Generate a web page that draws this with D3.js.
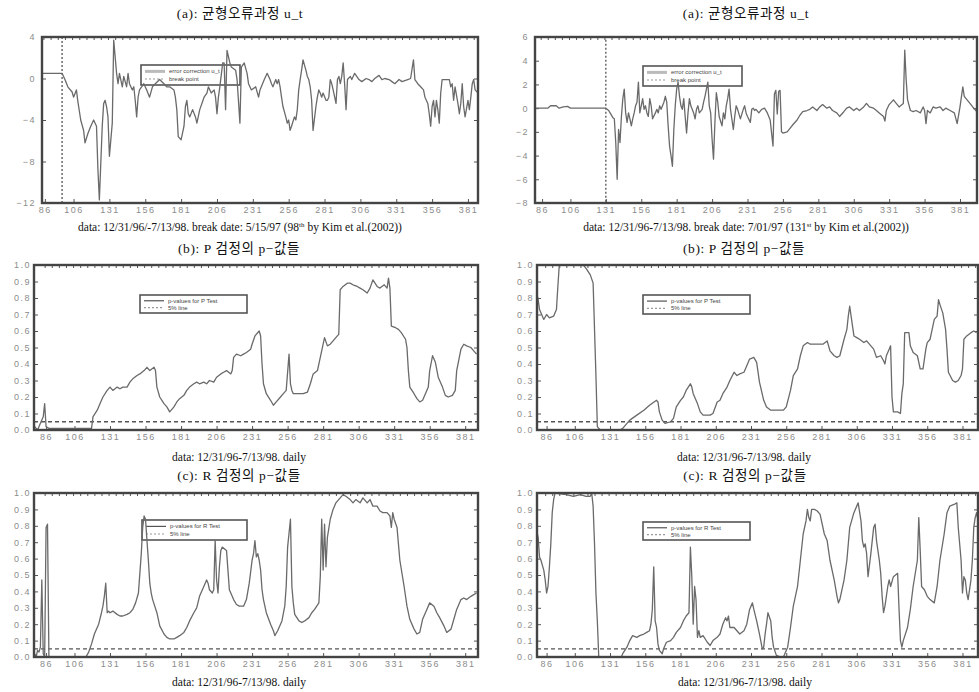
<!DOCTYPE html>
<html>
<head>
<meta charset="utf-8">
<script src="https://cdn.jsdelivr.net/npm/d3@7"></script>
<style>
    body { margin: 0; background: #fff; }
    text { font-family: "Liberation Serif", "Times New Roman", "Noto Sans CJK KR", serif; fill: #111; }
    .tick text { font-family: "Liberation Sans", Arial, sans-serif; fill: #8c8c8c; font-size: 9px; letter-spacing: 1.5px; }
    .tick line { stroke: #555; }
    .legend text { font-family: "Liberation Sans", Arial, sans-serif; fill: #444; font-size: 6px; }
</style>
</head>
<body>
<svg id="chart" width="979" height="692"></svg>
<script>
// valori: [osservazione, valore]

// (a) sinistra: processo d'errore, rottura al 98
const aLeft = [
    [84,0.5],[98,0.5],[100,-0.1],[102,-0.8],[105,-1.3],[106,-1.8],[108,-1.1],[109,-2.2],[111,-4.0],[113,-5.0],
    [114,-6.2],[116,-5.3],[118,-4.6],[120,-4.0],[122,-4.6],[123,-8.8],[124,-11.7],[126,-4.6],[127,-2.4],[128,-2.1],
    [129,-2.7],[130,-3.7],[131,-7.5],[132,-5.9],[133,-4.3],[134,3.7],[136,0.5],[137,-0.5],[138,0.5],[140,-0.8],
    [141,0.2],[143,-0.8],[144,0.5],[145,-0.5],[147,-1.1],[148,-0.8],[149,-2.1],[150,-3.7],[151,-1.8],[152,-1.1],
    [155,-0.5],[157,-1.1],[159,-1.8],[161,-0.8],[163,-0.5],[166,-0.1],[169,-0.5],[171,-0.8],[173,-0.8],[176,-1.1],
    [177,-1.8],[178,-3.0],[179,-5.6],[181,-5.9],[183,-4.6],[184,-2.7],[185,-2.1],[186,-3.4],[187,-3.7],[189,-3.0],
    [191,-3.7],[192,-4.3],[194,-3.0],[197,-1.8],[199,-1.4],[200,-0.8],[202,-1.4],[204,-1.1],[205,-1.8],[206,-3.4],
    [207,-1.8],[208,-0.8],[210,1.5],[211,1.5],[212,-3.0],[213,2.7],[215,1.5],[216,1.1],[219,0.8],[220,-0.1],
    [222,-4.3],[223,1.1],[225,1.5],[227,0.5],[228,-0.5],[230,-1.1],[233,-0.8],[235,-1.8],[236,-1.1],[239,-0.1],
    [241,0.5],[243,-0.1],[244,-0.5],[245,-0.8],[247,-0.1],[248,-0.5],[249,-0.1],[250,-0.8],[251,-1.8],[252,-2.7],
    [254,-3.7],[255,-4.3],[256,-4.0],[257,-5.0],[258,-4.6],[260,-3.7],[261,-4.0],[262,-3.0],[263,-1.1],[264,-0.1],
    [265,0.8],[266,1.8],[268,0.8],[269,0.2],[270,-0.1],[271,-0.8],[272,-2.1],[273,-5.0],[275,-2.7],[276,-1.8],
    [277,-1.1],[278,-1.4],[279,-1.8],[280,-1.4],[282,-2.1],[283,-2.1],[284,-1.8],[285,-0.1],[286,-0.5],[287,-1.1],
    [289,-2.4],[290,-0.1],[291,0.2],[292,-0.5],[293,0.2],[294,1.5],[295,-0.5],[296,-3.0],[297,-0.1],[299,0.2],
    [300,-0.1],[302,0.5],[305,-0.1],[307,-0.3],[310,0.0],[312,-0.1],[314,-0.3],[316,0.0],[319,0.3],[321,-0.1],
    [323,0.0],[326,-0.1],[328,-0.3],[330,-0.5],[333,-0.1],[335,-0.3],[339,-0.1],[341,0.0],[343,1.8],[344,-0.1],
    [346,-0.5],[348,-0.8],[350,-1.1],[351,-1.8],[353,-2.4],[354,-3.4],[355,-4.6],[356,-2.7],[357,-2.1],[358,-3.7],
    [359,-2.1],[360,-3.0],[361,-4.3],[362,-1.4],[363,-0.1],[365,-0.1],[368,-0.1],[369,-0.8],[370,-0.5],[371,-2.1],
    [372,-0.8],[374,-2.4],[375,-3.4],[376,-2.4],[377,-0.5],[378,-2.7],[379,-3.7],[381,-2.1],[382,-3.0],[383,-1.8],
    [384,-0.5],[385,-0.1],[386,-1.1],[388,-1.4]
];
const aLeftBreak = [[84,-12],[98,-12],[98,4],[388,4]];

// (a) destra: rottura al 131
const aRight = [
    [81,0],[90,0],[92,0.2],[96,0.2],[98,0],[101,0.1],[104,0.15],[106,0],[131,0],[133,-0.2],
    [134,-0.4],[136,-0.8],[137,-0.9],[138,-2.9],[139,-6.0],[140,-1.8],[141,-2.9],[142,-0.7],[143,0.8],[144,1.6],
    [145,-0.4],[146,-1.2],[147,-0.4],[148,-0.9],[149,-1.5],[150,-0.9],[151,-0.4],[152,0.2],[153,0.5],[154,2.2],
    [155,-0.4],[156,0.2],[157,0.8],[158,-0.1],[159,0.2],[160,-0.4],[161,-0.7],[162,0.8],[163,0.2],[164,-0.9],
    [166,-0.4],[167,-0.1],[168,-0.4],[169,0.2],[170,-0.1],[172,0.5],[173,1.0],[174,0.5],[175,-1.5],[176,-3.2],
    [177,-4.0],[178,-4.9],[179,-1.8],[180,0.2],[181,1.6],[182,2.2],[183,1.0],[184,0.2],[185,-0.1],[186,0.8],
    [187,-0.7],[188,-2.1],[189,-0.4],[190,0.8],[191,0.2],[193,-0.4],[194,-0.9],[195,-0.1],[196,0.2],[197,-0.4],
    [199,-0.1],[200,0.5],[201,1.0],[202,1.6],[203,2.2],[204,0.2],[205,-0.4],[206,-2.6],[207,-4.3],[208,-1.2],
    [209,1.3],[210,0.5],[211,-0.7],[213,-1.5],[214,-0.4],[215,-0.9],[216,0.2],[217,0.8],[218,1.6],[219,-0.1],
    [221,-1.8],[222,-0.7],[223,0.2],[224,-0.1],[226,-0.9],[228,-0.1],[229,0.2],[230,-0.4],[231,-0.7],[233,-1.2],
    [234,-0.1],[235,0],[236,-0.2],[237,-0.1],[239,-0.4],[241,-0.1],[243,0],[245,-0.4],[247,-1.0],[249,-3.2],
    [250,1.2],[251,1.5],[252,-0.5],[253,1.4],[254,1.5],[255,-2.0],[256,-2.1],[259,-2.0],[261,-1.7],[263,-1.4],
    [266,-1.0],[268,-0.6],[270,-0.3],[273,-0.2],[275,-0.1],[277,0.1],[280,-0.2],[282,0.1],[284,0.3],[287,0.0],
    [289,0.1],[291,-0.2],[294,-0.4],[296,-0.7],[299,-0.3],[301,0.0],[303,0.1],[306,-0.2],[308,0.0],[310,-0.2],
    [313,0.1],[315,0.4],[317,0.1],[320,0.0],[322,-0.2],[324,-0.4],[327,-0.7],[328,-1.1],[329,-0.2],[331,0.3],
    [334,0.7],[336,0.4],[338,0.1],[341,0.4],[342,4.9],[343,2.4],[344,0.7],[346,-0.2],[348,-0.3],[350,-0.2],
    [353,-0.4],[355,0.1],[356,-0.2],[357,-1.3],[358,-0.2],[360,-0.4],[362,0.1],[364,0.0],[367,0.1],[369,-0.2],
    [371,0.0],[374,-0.2],[377,-0.4],[379,-1.3],[381,0.1],[383,1.8],[384,1.0],[386,0.7],[388,0.4],[390,0.1],
    [393,-0.3]
];
const aRightBreak = [[81,-8],[131,-8],[131,6],[393,6]];

// (b) p-value del test P
const bLeft = [
    [78,0.02],[80,0.0],[83,0.06],[84,0.08],[85,0.16],[86,0.02],[88,0.01],[100,0.01],[110,0.01],[118,0.01],
    [119,0.08],[122,0.12],[124,0.16],[126,0.2],[129,0.24],[131,0.26],[133,0.24],[136,0.26],[138,0.25],[140,0.26],
    [143,0.26],[145,0.29],[147,0.31],[150,0.33],[152,0.34],[155,0.36],[157,0.38],[159,0.36],[162,0.38],[163,0.36],
    [164,0.26],[166,0.2],[169,0.16],[171,0.14],[173,0.11],[176,0.14],[178,0.17],[180,0.19],[183,0.21],[185,0.24],
    [187,0.26],[190,0.28],[192,0.29],[194,0.28],[197,0.29],[199,0.28],[201,0.3],[204,0.29],[206,0.32],[209,0.34],
    [211,0.35],[213,0.36],[216,0.34],[217,0.36],[218,0.44],[220,0.46],[223,0.45],[225,0.46],[227,0.47],[230,0.49],
    [231,0.52],[233,0.57],[236,0.6],[237,0.57],[238,0.4],[239,0.28],[241,0.22],[244,0.18],[246,0.15],[248,0.17],
    [251,0.2],[253,0.22],[255,0.24],[257,0.46],[258,0.28],[259,0.24],[260,0.22],[265,0.22],[267,0.22],[270,0.23],
    [272,0.28],[274,0.34],[277,0.36],[279,0.44],[281,0.52],[282,0.56],[284,0.51],[286,0.52],[288,0.54],[291,0.57],
    [292,0.58],[293,0.85],[295,0.87],[298,0.89],[300,0.89],[302,0.88],[305,0.87],[307,0.86],[309,0.85],[312,0.83],
    [314,0.86],[316,0.91],[319,0.87],[321,0.86],[324,0.88],[326,0.86],[327,0.92],[328,0.86],[329,0.63],[332,0.62],
    [334,0.61],[336,0.59],[339,0.55],[340,0.5],[341,0.36],[342,0.26],[345,0.22],[347,0.19],[349,0.17],[351,0.18],
    [353,0.22],[355,0.26],[356,0.36],[358,0.45],[359,0.43],[360,0.41],[362,0.32],[365,0.26],[367,0.21],[369,0.2],
    [372,0.21],[374,0.24],[375,0.36],[378,0.49],[380,0.52],[382,0.51],[385,0.5],[387,0.48],[389,0.46]
];
const bRight = [
    [79,0.83],[80,0.79],[81,0.73],[84,0.67],[86,0.7],[88,0.68],[91,0.69],[92,0.71],[93,0.73],[94,0.87],
    [95,1.0],[97,1.0],[111,1.0],[112,1.0],[114,0.98],[117,0.94],[119,0.89],[120,0.61],[121,0.33],[122,0.02],
    [124,0.0],[138,0.0],[140,0.01],[143,0.04],[145,0.06],[150,0.09],[155,0.12],[159,0.15],[164,0.18],[165,0.17],
    [166,0.11],[168,0.06],[170,0.04],[174,0.05],[176,0.07],[178,0.14],[181,0.18],[183,0.2],[185,0.24],[188,0.28],
    [189,0.26],[190,0.22],[193,0.16],[195,0.11],[197,0.09],[202,0.09],[204,0.1],[207,0.17],[209,0.18],[211,0.22],
    [214,0.26],[216,0.3],[219,0.35],[221,0.33],[223,0.34],[226,0.35],[228,0.39],[230,0.43],[233,0.44],[235,0.41],
    [237,0.29],[240,0.18],[242,0.14],[245,0.12],[249,0.12],[254,0.12],[256,0.14],[259,0.24],[261,0.33],[264,0.37],
    [266,0.45],[268,0.51],[271,0.53],[273,0.52],[278,0.52],[282,0.52],[285,0.54],[287,0.48],[290,0.45],[292,0.44],
    [294,0.45],[297,0.55],[299,0.61],[300,0.69],[301,0.75],[303,0.63],[304,0.57],[306,0.56],[308,0.55],[311,0.53],
    [313,0.54],[316,0.51],[318,0.49],[320,0.44],[323,0.45],[325,0.42],[326,0.4],[327,0.45],[329,0.49],[330,0.51],
    [331,0.2],[332,0.11],[335,0.11],[337,0.1],[338,0.22],[339,0.28],[340,0.59],[343,0.59],[344,0.51],[346,0.47],
    [349,0.45],[351,0.37],[353,0.37],[355,0.49],[356,0.53],[358,0.55],[359,0.59],[361,0.67],[363,0.69],[364,0.79],
    [365,0.76],[367,0.71],[369,0.61],[370,0.49],[371,0.35],[374,0.3],[376,0.29],[378,0.3],[380,0.33],[381,0.37],
    [382,0.55],[384,0.57],[387,0.59],[389,0.6],[391,0.59]
];

// (c) p-value del test R
const cLeft = [
    [78,0.02],[79,0.0],[80,0.04],[81,0.03],[82,0.06],[83,0.47],[84,0.02],[85,0.0],[86,0.79],[87,0.81],
    [88,0.0],[100,0.0],[114,0.0],[116,0.03],[118,0.08],[120,0.14],[123,0.2],[125,0.27],[126,0.31],[127,0.37],
    [128,0.45],[129,0.27],[130,0.28],[131,0.27],[133,0.28],[136,0.26],[138,0.25],[140,0.25],[143,0.26],[145,0.27],
    [147,0.29],[149,0.33],[151,0.39],[152,0.51],[153,0.63],[154,0.79],[155,0.86],[156,0.84],[157,0.71],[158,0.59],
    [159,0.45],[160,0.39],[161,0.35],[164,0.27],[166,0.19],[169,0.14],[171,0.12],[173,0.11],[176,0.11],[178,0.12],
    [180,0.13],[183,0.15],[185,0.18],[187,0.22],[190,0.27],[192,0.3],[194,0.37],[197,0.43],[199,0.47],[200,0.45],
    [201,0.41],[203,0.39],[204,0.41],[205,0.71],[206,0.47],[207,0.39],[208,0.55],[209,0.65],[210,0.67],[213,0.65],
    [214,0.53],[215,0.41],[218,0.35],[220,0.32],[222,0.31],[225,0.31],[227,0.35],[229,0.45],[231,0.59],[232,0.63],
    [233,0.71],[234,0.61],[235,0.63],[236,0.59],[237,0.53],[238,0.41],[239,0.35],[241,0.27],[244,0.2],[246,0.16],
    [247,0.13],[249,0.16],[252,0.22],[254,0.31],[255,0.43],[256,0.67],[258,0.84],[259,0.43],[260,0.33],[261,0.26],
    [264,0.22],[266,0.21],[268,0.22],[271,0.24],[273,0.27],[275,0.29],[278,0.33],[279,0.49],[280,0.84],[281,0.53],
    [282,0.81],[283,0.55],[284,0.73],[286,0.84],[288,0.9],[290,0.94],[293,0.97],[295,0.99],[297,0.98],[300,0.96],
    [302,0.94],[304,0.96],[307,0.94],[309,0.97],[312,0.94],[314,0.96],[316,0.92],[319,0.92],[321,0.89],[323,0.88],
    [326,0.88],[328,0.86],[329,0.79],[330,0.88],[331,0.84],[333,0.79],[334,0.69],[335,0.59],[338,0.43],[340,0.31],
    [342,0.23],[345,0.17],[347,0.14],[349,0.15],[351,0.23],[354,0.29],[356,0.33],[359,0.31],[361,0.27],[363,0.24],
    [366,0.19],[368,0.15],[371,0.17],[373,0.23],[375,0.29],[378,0.35],[380,0.36],[382,0.35],[385,0.37],[387,0.38],
    [389,0.39]
];
const cRight = [
    [79,0.77],[80,0.73],[81,0.61],[82,0.59],[84,0.53],[85,0.47],[86,0.39],[87,0.43],[88,0.55],[89,0.69],
    [90,0.88],[91,0.96],[92,1.0],[100,0.99],[105,0.98],[110,0.99],[114,0.98],[117,0.98],[118,1.0],[119,0.92],
    [120,0.69],[121,0.39],[122,0.22],[123,0.0],[139,0.0],[140,0.02],[143,0.06],[145,0.1],[147,0.13],[150,0.12],
    [152,0.13],[155,0.14],[157,0.15],[159,0.16],[160,0.2],[161,0.29],[162,0.55],[163,0.22],[164,0.18],[165,0.08],
    [166,0.04],[168,0.02],[169,0.05],[171,0.09],[174,0.1],[176,0.12],[178,0.15],[181,0.18],[183,0.22],[185,0.25],
    [187,0.27],[188,0.67],[189,0.49],[190,0.2],[191,0.43],[192,0.35],[193,0.12],[194,0.16],[195,0.12],[197,0.13],
    [200,0.09],[202,0.07],[204,0.1],[207,0.12],[209,0.14],[211,0.2],[213,0.24],[214,0.22],[215,0.25],[216,0.18],
    [219,0.18],[221,0.16],[223,0.14],[226,0.16],[228,0.2],[230,0.29],[232,0.33],[233,0.29],[235,0.22],[237,0.14],
    [239,0.05],[240,0.06],[241,0.14],[242,0.2],[243,0.27],[245,0.22],[246,0.12],[247,0.06],[249,0.01],[252,0.0],
    [254,0.0],[257,0.06],[259,0.18],[261,0.31],[264,0.43],[266,0.59],[268,0.75],[270,0.83],[271,0.9],[272,0.85],
    [273,0.83],[274,0.9],[276,0.9],[278,0.89],[280,0.87],[283,0.75],[285,0.71],[287,0.59],[290,0.47],[292,0.37],
    [293,0.33],[294,0.35],[297,0.47],[299,0.59],[301,0.79],[304,0.88],[306,0.92],[307,0.94],[309,0.83],[310,0.71],
    [311,0.67],[312,0.69],[313,0.63],[314,0.49],[316,0.63],[318,0.79],[319,0.81],[320,0.71],[322,0.59],[323,0.51],
    [324,0.37],[325,0.27],[326,0.31],[328,0.43],[329,0.47],[330,0.43],[332,0.49],[335,0.51],[336,0.29],[337,0.1],
    [338,0.06],[339,0.1],[342,0.18],[344,0.29],[346,0.43],[349,0.59],[350,0.85],[351,0.65],[352,0.43],[354,0.41],
    [356,0.37],[358,0.35],[361,0.33],[363,0.43],[365,0.59],[368,0.75],[370,0.88],[372,0.92],[375,0.93],[377,0.94],
    [378,0.79],[380,0.59],[381,0.39],[382,0.49],[383,0.47],[384,0.39],[385,0.35],[387,0.47],[388,0.59],[389,0.79],
    [390,0.85],[391,0.88],[392,0.83]
];

// tick e etichette
const xTicks = [86, 106, 131, 156, 181, 206, 231, 256, 281, 306, 331, 356, 381];
const aLeftYTicks = [-12, -8, -4, 0, 4];
const aRightYTicks = [-8, -6, -4, -2, 0, 2, 4, 6];
const pYTicks = [0, 0.1, 0.2, 0.3, 0.4, 0.5, 0.6, 0.7, 0.8, 0.9, 1.0];
const fivePct = 0.05;

const titleA = '(a): 균형오류과정  u_t';
const titleB = '(b): P  검정의  p−값들';
const titleC = '(c): R  검정의  p−값들';
const subDaily = 'data: 12/31/96-7/13/98. daily';
const legendA = ['error correction u_t', 'break point'];
const legendB = ['p-values for P Test', '5% line'];
const legendC = ['p-values for R Test', '5% line'];

const svg = d3.select('#chart');

function drawPanel(p) {
    const g = svg.append('g');
    const x = d3.scaleLinear().domain(p.xDom).range([p.left, p.right]);
    const y = d3.scaleLinear().domain(p.yDom).range([p.bottom, p.top]);

    // titolo
    g.append('text')
        .attr('x', p.cx).attr('y', p.titleY)
        .attr('text-anchor', 'middle')
        .attr('font-size', 13.5)
        .attr('letter-spacing', 0.6)
        .text(p.title);

    // sottotitolo (con eventuale apice)
    const sub = g.append('text')
        .attr('x', p.cx).attr('y', p.subY)
        .attr('text-anchor', 'middle')
        .attr('font-size', 11.5);
    let afterSup = false;
    p.sub.forEach(part => {
        if (part.sup) {
            sub.append('tspan').attr('font-size', 7).attr('dy', -4).text(part.sup);
            afterSup = true;
        } else {
            const ts = sub.append('tspan').text(part.t);
            if (afterSup) ts.attr('dy', 4);
            afterSup = false;
        }
    });

    // legenda (sotto le linee)
    const [lx, ly, lw, lh] = p.legBox;
    const leg = g.append('g').attr('class', 'legend');
    leg.append('rect')
        .attr('x', lx).attr('y', ly).attr('width', lw).attr('height', lh)
        .attr('fill', '#fff').attr('stroke', '#555').attr('stroke-width', 1.6);
    leg.append('line')
        .attr('x1', lx + 4).attr('x2', lx + 24).attr('y1', ly + lh * 0.32).attr('y2', ly + lh * 0.32)
        .attr('stroke', p.isA ? '#bbb' : '#555').attr('stroke-width', p.isA ? 3 : 1.2);
    leg.append('line')
        .attr('x1', lx + 4).attr('x2', lx + 24).attr('y1', ly + lh * 0.7).attr('y2', ly + lh * 0.7)
        .attr('stroke', '#999').attr('stroke-width', 1.2).attr('stroke-dasharray', '2,2');
    p.legend.forEach((t, i) => {
        leg.append('text')
            .attr('x', lx + 28).attr('y', ly + lh * (i === 0 ? 0.32 : 0.7) + 2)
            .text(t);
    });

    // assi
    g.append('g')
        .attr('transform', `translate(0,${p.bottom})`)
        .call(d3.axisBottom(x).tickValues(xTicks).tickSizeInner(-4).tickSizeOuter(0).tickPadding(4).tickFormat(d3.format('d')))
        .call(a => a.select('.domain').remove());
    g.append('g')
        .attr('transform', `translate(0,${p.top})`)
        .call(d3.axisTop(x).tickValues(d3.range(85, p.xDom[1], 5)).tickSizeInner(-3).tickSizeOuter(0).tickFormat(''))
        .call(a => a.select('.domain').remove());
    g.append('g')
        .attr('transform', `translate(${p.left},0)`)
        .call(d3.axisLeft(y).tickValues(p.yTicks).tickSizeInner(-4).tickSizeOuter(0).tickPadding(p.yPad).tickFormat(p.fmt))
        .call(a => a.select('.domain').remove());
    g.append('g')
        .attr('transform', `translate(${p.right},0)`)
        .call(d3.axisRight(y).tickValues(p.yTicks).tickSizeInner(-4).tickSizeOuter(0).tickFormat(''))
        .call(a => a.select('.domain').remove());

    // clip
    const clipId = 'clip-' + p.id;
    g.append('clipPath').attr('id', clipId)
        .append('rect')
        .attr('x', p.left).attr('y', p.top)
        .attr('width', p.right - p.left).attr('height', p.bottom - p.top);

    const line = d3.line().x(d => x(d[0])).y(d => y(d[1]));
    const plot = g.append('g').attr('clip-path', `url(#${clipId})`);

    // linea tratteggiata: rottura o livello 5%
    const dashed = p.breakLine || [[p.xDom[0], fivePct], [p.xDom[1], fivePct]];
    plot.append('path')
        .datum(dashed)
        .attr('d', line)
        .attr('fill', 'none')
        .attr('stroke', '#555')
        .attr('stroke-width', 1.3)
        .attr('stroke-dasharray', p.breakLine ? '2,2' : '4,3');

    plot.append('path')
        .datum(p.data)
        .attr('d', line)
        .attr('fill', 'none')
        .attr('stroke', '#6a6a6a')
        .attr('stroke-width', 1.3)
        .attr('stroke-linejoin', 'round');

    // cornice
    g.append('rect')
        .attr('x', p.left).attr('y', p.top)
        .attr('width', p.right - p.left).attr('height', p.bottom - p.top)
        .attr('fill', 'none').attr('stroke', '#444').attr('stroke-width', 2.4);
}

const fmtInt = d3.format('d');
const fmtP = d3.format('.1f');

const panels = [
    { id: 'aL', isA: true, title: titleA, cx: 240, titleY: 18, subY: 231,
      sub: [{ t: 'data: 12/31/96/-7/13/98. break date: 5/15/97 (98' }, { sup: 'th' }, { t: ' by Kim et al.(2002))' }],
      data: aLeft, breakLine: aLeftBreak, xDom: [84, 388], yDom: [-12, 4], yTicks: aLeftYTicks, fmt: fmtInt, yPad: 6,
      left: 42, right: 478, top: 37, bottom: 203, legBox: [141, 65, 99, 20], legend: legendA },
    { id: 'aR', isA: true, title: titleA, cx: 746, titleY: 18, subY: 231,
      sub: [{ t: 'data: 12/31/96-7/13/98. break date: 7/01/97 (131' }, { sup: 'st' }, { t: ' by Kim et al.(2002))' }],
      data: aRight, breakLine: aRightBreak, xDom: [81, 393], yDom: [-8, 6], yTicks: aRightYTicks, fmt: fmtInt, yPad: 6,
      left: 535, right: 977, top: 37, bottom: 203, legBox: [643, 66, 99, 20], legend: legendA },
    { id: 'bL', title: titleB, cx: 239, titleY: 253, subY: 461, sub: [{ t: subDaily }],
      data: bLeft, xDom: [77.5, 390], yDom: [0, 1], yTicks: pYTicks, fmt: fmtP, yPad: 3,
      left: 34, right: 478, top: 265, bottom: 430, legBox: [140, 295, 107, 18], legend: legendB },
    { id: 'bR', title: titleB, cx: 744, titleY: 253, subY: 461, sub: [{ t: subDaily }],
      data: bRight, xDom: [79.2, 392], yDom: [0, 1], yTicks: pYTicks, fmt: fmtP, yPad: 3,
      left: 537, right: 978, top: 265, bottom: 430, legBox: [643, 295, 107, 19], legend: legendB },
    { id: 'cL', title: titleC, cx: 239, titleY: 480, subY: 686, sub: [{ t: subDaily }],
      data: cLeft, xDom: [77.5, 390], yDom: [0, 1], yTicks: pYTicks, fmt: fmtP, yPad: 3,
      left: 34, right: 478, top: 493, bottom: 657, legBox: [142, 520, 105, 20], legend: legendC },
    { id: 'cR', title: titleC, cx: 745, titleY: 480, subY: 686, sub: [{ t: subDaily }],
      data: cRight, xDom: [79.2, 392], yDom: [0, 1], yTicks: pYTicks, fmt: fmtP, yPad: 3,
      left: 537, right: 978, top: 493, bottom: 657, legBox: [643, 522, 107, 18], legend: legendC }
];

panels.forEach(drawPanel);
</script>
</body>
</html>
